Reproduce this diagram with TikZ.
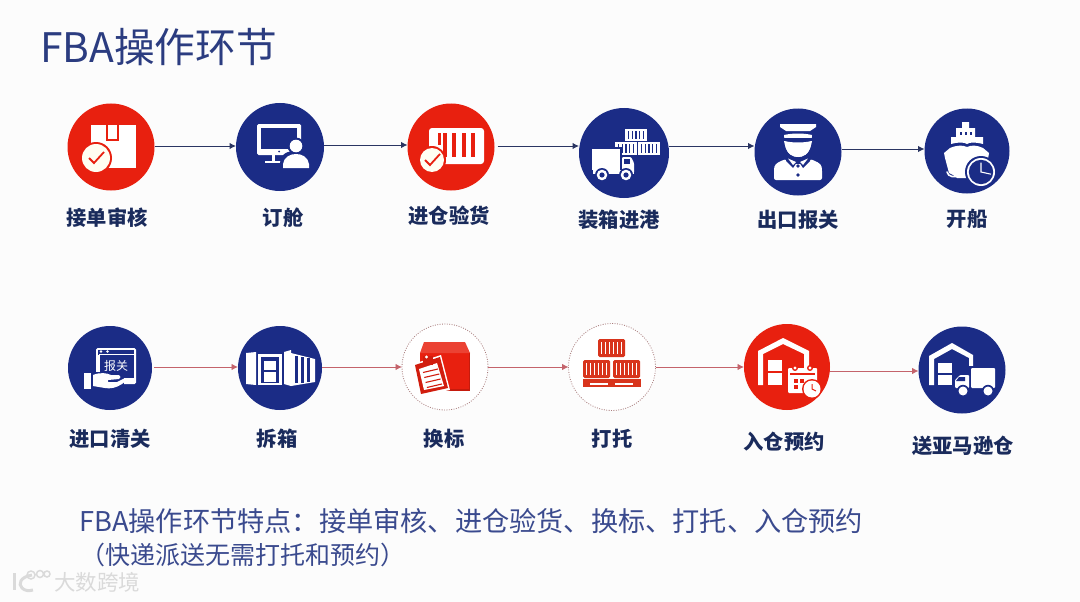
\documentclass[tikz,border=0pt]{standalone}
\usepackage{fontspec}
\setmainfont{Noto Sans CJK SC}
\definecolor{cred}{HTML}{E8200F}
\definecolor{cblue}{HTML}{1B2C86}
\definecolor{navy}{HTML}{1A2B5C}
\definecolor{ctitle}{HTML}{2B3C80}
\definecolor{cbody}{HTML}{3A4A8E}
\definecolor{arrd}{HTML}{2A3562}
\definecolor{arrr}{HTML}{C4636B}
\definecolor{ddot}{HTML}{A87C7C}
\definecolor{wm}{HTML}{DADADA}
\definecolor{pal}{HTML}{D8341C}
\usetikzlibrary{arrows.meta}
\tikzset{
  x=1pt,y=-1pt,
  stepc/.style={circle,inner sep=0pt,outer sep=0pt,minimum size=#1},
  redc/.style={stepc=#1,fill=cred},
  bluec/.style={stepc=#1,fill=cblue},
  dotc/.style={stepc=#1,draw=ddot,line width=.8pt,dash pattern=on .9pt off 1.5pt,fill=white},
  lab/.style={font=\bfseries\fontsize{20.3}{24}\selectfont,text=navy,inner sep=0pt},
  arrblue/.style={draw=arrd,line width=1pt,-{Latex[length=6.5pt,width=6.5pt]}},
  arrred/.style={draw=arrr,line width=.9pt,-{Latex[length=6.5pt,width=6.5pt]}},
}
\newcommand{\conn}[4]{\draw[#1] (#2.east |- 0,#4) -- (#3.west |- 0,#4);}
\newcommand{\clockic}[4]{% x y r colour
  \fill[white] (#1,#2) circle (#3);
  \fill[#4] (#1,#2) circle (#3-1.8);
  \draw[white,line width=1.1pt] (#1,#2-#3+4.5) -- (#1,#2) -- (#1+#3-4,#2+2.2);
}
\newcommand{\checkic}[3]{% x y r
  \fill[cred] (#1,#2) circle (#3+2);
  \fill[white!95!yellow] (#1,#2) circle (#3);
  \draw[cred,line width=1.8pt] (#1-7,#2) -- (#1-2,#2+5) -- (#1+8,#2-6);
}
\begin{document}
\begin{tikzpicture}
\useasboundingbox (0,0) rectangle (1080,602);
\fill[white!99!black] (0,0) rectangle (1080,602);

\node[anchor=west,inner sep=0pt,text=ctitle,font=\fontsize{40.7}{44}\selectfont] (title) at (40,47) {FBA操作环节};

% --- circles
\node[redc=87pt]  (a1) at (111,147) {};
\node[bluec=88pt] (a2) at (280,147) {};
\node[redc=87pt]  (a3) at (451,147) {};
\node[bluec=90pt] (a4) at (624,153) {};
\node[bluec=87pt] (a5) at (798,152) {};
\node[bluec=85pt] (a6) at (967,151) {};
\node[bluec=84pt] (b1) at (110,368) {};
\node[bluec=84pt] (b2) at (280,368) {};
\node[dotc=86pt]  (b3) at (445,367) {};
\node[dotc=87pt]  (b4) at (612,367) {};
\node[redc=86pt]  (b5) at (787,367) {};
\node[bluec=87pt] (b6) at (962,370) {};

% --- connectors
\conn{arrblue}{a1}{a2}{146}
\conn{arrblue}{a2}{a3}{145}
\draw[arrblue] ([xshift=3pt]a3.east |- 0,146) -- (a4.west |- 0,146);
\conn{arrblue}{a4}{a5}{146}
\conn{arrblue}{a5}{a6}{149}
\draw[arrred] ([xshift=2pt]b1.east |- 0,367) -- (b2.west |- 0,367);
\conn{arrred}{b2}{b3}{367}
\conn{arrred}{b3}{b4}{367}
\conn{arrred}{b4}{b5}{367}
\conn{arrred}{b5}{b6}{371}

% --- labels
\node[lab] (l1) at (107,218) {接单审核};
\node[lab] (l2) at (283,218) {订舱};
\node[lab] (l3) at (449,216) {进仓验货};
\node[lab] (l4) at (619,220) {装箱进港};
\node[lab] (l5) at (798,220) {出口报关};
\node[lab] (l6) at (967,219) {开船};
\node[lab] (l7) at (110,439) {进口清关};
\node[lab] (l8) at (277,439) {拆箱};
\node[lab] (l9) at (444,439) {换标};
\node[lab] (l10) at (612,439) {打托};
\node[lab] (l11) at (784,442) {入仓预约};
\node[lab] (l12) at (963,446) {送亚马逊仓};

% --- icon: box + check
\begin{scope}[shift={(a1.center)}]
  \fill[white] (-20,-22) rectangle (25,21);
  \fill[cred] (-5.5,-22) rectangle (8,-6);
  \fill[white] (-3.5,-22) rectangle (6,-8);
  \checkic{-15}{11}{14}
\end{scope}
% --- icon: monitor + person
\begin{scope}[shift={(a2.center)}]
  \fill[white,rounded corners=1.5pt] (-23,-23) rectangle (21,8);
  \fill[cblue] (-19,-19) rectangle (17,2);
  \fill[cblue] (-1,4.5) circle (1);
  \fill[white] (-8,8) rectangle (-5.5,15);
  \fill[white] (-15,14) rectangle (1,16);
  \fill[cblue] (16,-1) circle (8.5);
  \fill[cblue] (0,21.5) -- (0,16) .. controls (1,6) and (8,4) .. (16,4) .. controls (24,4) and (31,6) .. (32,16) -- (32,21.5) -- cycle;
  \fill[white] (16,-1) circle (6.3);
  \fill[white] (3,21) -- (3,17) .. controls (4,10) and (10,7) .. (16,7) .. controls (22,7) and (28,10) .. (29,17) -- (29,21) -- cycle;
\end{scope}
% --- icon: container + check
\begin{scope}[shift={(a3.center)}]
  \fill[white,rounded corners=3pt] (-22,-19) rectangle (33,17);
  \foreach \bx in {-6,3,13,22} \fill[cred] (\bx-1.6,-14) rectangle (\bx+1.6,10);
  \fill[cred] (-13,-14) rectangle (-10,-2);
  \checkic{-19}{13}{12}
\end{scope}
% --- icon: truck + containers
\begin{scope}[shift={(a4.center)}]
  \foreach \cx/\cy/\cw/\ch in {1/-24/22/12,-9/-11/22/13,14/-11/22/13}{
    \fill[white] (\cx,\cy) rectangle (\cx+\cw,\cy+\ch);
    \foreach \k in {1,...,5} \fill[cblue] (\cx+\cw*\k/6-.7,\cy+2) rectangle (\cx+\cw*\k/6+.7,\cy+\ch-2);
  }
  \fill[cblue] (-34,-6) rectangle (-2,19);
  \fill[white] (-32,-4) rectangle (-4,17);
  \fill[white,rounded corners=1pt] (-2,4) -- (7,4) -- (10,10) -- (10,20) -- (-2,20) -- cycle;
  \fill[cblue] (0,6) rectangle (6,10.5);
  \fill[white] (-31,17) rectangle (10,20.5);
  \foreach \wx in {-22,2}{
    \fill[cblue] (\wx,22) circle (7);
    \fill[white] (\wx,22) circle (5.3);
    \fill[cblue] (\wx,22) circle (2.6);
  }
\end{scope}
% --- icon: officer
\begin{scope}[shift={(a5.center)}]
  \fill[white] (-18,-28) -- (18,-28) -- (18,-25) -- (12,-21) -- (-12,-21) -- (-18,-25) -- cycle;
  \fill[white] (-14,-17) .. controls (-5,-19) and (5,-19) .. (14,-17) -- (13,-7) .. controls (11,3) and (4,5) .. (0,5) .. controls (-4,5) and (-11,3) .. (-13,-7) -- cycle;
  \fill[cblue] (-14,-11) .. controls (-5,-8) and (5,-8) .. (14,-11) -- (14,-14) -- (-14,-14) -- cycle;
  \fill[white] (-14,-11) .. controls (-5,-9) and (5,-9) .. (14,-11) -- (13,-7) .. controls (11,3) and (4,5) .. (0,5) .. controls (-4,5) and (-11,3) .. (-13,-7) -- cycle;
  \fill[white,rounded corners=2pt] (-24,28) -- (-24,17) .. controls (-23,11) and (-17,9) .. (-12,7) -- (0,13) -- (12,7) .. controls (17,9) and (23,11) .. (24,17) -- (24,28) -- cycle;
  \fill[cblue] (-12,4) -- (-1,10) -- (-5,16) -- (-12,9) -- cycle;
  \fill[cblue] (12,4) -- (1,10) -- (5,16) -- (12,9) -- cycle;
  \fill[white] (-10,6.5) -- (-2,10) -- (-5,13) -- cycle;
  \fill[white] (10,6.5) -- (2,10) -- (5,13) -- cycle;
  \fill[cblue] (0,14) circle (1.9);
  \fill[cblue] (0,23) circle (1.9);
\end{scope}
% --- icon: ship + clock
\begin{scope}[shift={(a6.center)}]
  \fill[white] (-5,-29) -- (2,-29) -- (2,-23) -- (8,-23) -- (8,-14) -- (16,-14) -- (16,-7) .. controls (8,-9) and (3,-9) .. (0,-7) .. controls (-3,-9) and (-9,-9) .. (-16,-7) -- (-16,-14) -- (-11,-14) -- (-11,-23) -- (-5,-23) -- cycle;
  \foreach \dx in {-6,-1,4} \fill[cblue] (\dx-1.2,-19) rectangle (\dx+1.2,-16.5);
  \fill[white] (-23,2) -- (-17,-3) .. controls (-10,-6) and (-4,-6) .. (0,-4) .. controls (4,-6) and (10,-6) .. (16,-3) -- (22,2) .. controls (21,10) and (18,18) .. (14,27) -- (-10,27) .. controls (-12,24) and (-15,24) .. (-18,22) .. controls (-20,14) and (-22,8) .. (-23,2) -- cycle;
  \draw[white,line width=1.6pt,line cap=round] (-20,21) .. controls (-19,26) and (-12,27) .. (-8,24);
  \fill[cblue] (14,21) circle (16);
  \clockic{14}{21}{14}{cblue}
\end{scope}
% --- icon: customs window + hand
\begin{scope}[shift={(b1.center)}]
  \fill[white,rounded corners=1.5pt] (-14,-20) rectangle (26,16);
  \fill[cblue] (-12,-18) rectangle (24,-13.5);
  \fill[white] (-9,-16.5) circle (1.3) (-2.5,-16.5) circle (1.3);
  \fill[cblue] (-11,-13.5) rectangle (24,10);
  \draw[white,line width=.8pt] (-11,-13.5) rectangle (24,10);
  \node[text=white,font=\fontsize{12}{12}\selectfont,inner sep=0pt] (bg) at (6,-2) {报关};
  \fill[cblue] (-17,4) rectangle (14,23);
  \fill[white] (-26,5) rectangle (-19,21);
  \fill[white] (-17,7) .. controls (-10,4) and (-3,5) .. (1,7) -- (9,7) .. controls (11,8) and (11,10) .. (9,11) -- (-2,12) -- (-2,14) -- (7,14) -- (15,10) .. controls (17,11) and (14,15) .. (12,16) .. controls (6,20) and (0,21) .. (-5,20) -- (-17,18) -- cycle;
\end{scope}
% --- icon: open container
\begin{scope}[shift={(b2.center)}]
  \fill[white] (-34,-15) -- (-24,-16) -- (-24,17) -- (-34,16) -- cycle;
  \fill[white] (-22,-14) -- (2,-14) -- (2,17) -- (-22,17) -- cycle;
  \fill[cblue] (-19,-11) rectangle (-1,15);
  \fill[white] (-16,-7) rectangle (-4,2);
  \fill[white] (-16,4) rectangle (-4,14);
  \fill[white] (4,-16) -- (11,-18) -- (11,18) -- (4,16) -- cycle;
  \fill[white] (11,-15) -- (35,-9) -- (35,14) -- (11,18) -- cycle;
  \foreach \sx/\st/\sb in {15/-12/15,21/-11/14.5,27/-10/14} \fill[cblue] (\sx,\st) rectangle (\sx+3,\sb);
\end{scope}
% --- icon: box + clipboard
\begin{scope}[shift={(b3.center)}]
  \fill[cred!85!black] (-25,-14) rectangle (25,24);
  \fill[cred] (-25,-14) rectangle (24,22);
  \fill[cred!85!white] (-21,-25) -- (20,-25) -- (25,-14) -- (-25,-14) -- cycle;
  \fill[white] (-32,-3) -- (-4,-12) -- (5,23) -- (-25,29) -- cycle;
  \fill[cred!90!black] (-30,-2) -- (-5,-10) -- (3,21) -- (-24,27) -- cycle;
  \fill[white] (-26,2) -- (-8,-4) -- (-1,19) -- (-21,23) -- cycle;
  \fill[cred!90!black] (-22,-11) rectangle (-12,-2);
  \fill[white] (-18.5,-10) circle (1.6);
  \foreach \i in {0,...,3}
    \draw[cred!90!black,line width=1.1pt] (-22+\i*1.3,5.5+\i*5) -- (-7+\i*1.3,2+\i*5);
\end{scope}
% --- icon: pallet
\begin{scope}[shift={(b4.center)}]
  \foreach \cx/\cy in {-14/-28,-29/-7,1/-7}{
    \fill[pal,rounded corners=1.5pt] (\cx,\cy) rectangle (\cx+27,\cy+18);
    \foreach \k in {1,...,6} \fill[white] (\cx+27*\k/7-.5,\cy+3) rectangle (\cx+27*\k/7+.5,\cy+15);
  }
  \fill[pal] (-29,12) rectangle (29,20);
  \fill[white] (-22,15.5) rectangle (-4,18);
  \fill[white] (3,15.5) rectangle (21,18);
\end{scope}
% --- icon: warehouse + calendar + clock
\begin{scope}[shift={(b5.center)}]
  \fill[white] (-4,-29) -- (22,-16) -- (22,1) -- (17,1) -- (17,-13) -- (-4,-23) -- (-24,-13) -- (-24,18) -- (-29,18) -- (-29,-16) -- cycle;
  \fill[white] (-19,-7) rectangle (-5,18);
  \fill[cred] (-19,4) rectangle (-5,6);
  \fill[white,rounded corners=1pt] (1,1) rectangle (30,26);
  \fill[cred] (3,6) rectangle (28,7.5);
  \foreach \rx in {8,23}{\fill[cred] (\rx,1) circle (3);\fill[white] (\rx,1) circle (1.6);}
  \foreach \qx/\qy in {7/12,13/12,7/18}\fill[cred] (\qx,\qy) rectangle (\qx+3.5,\qy+3.5);
  \fill[cred] (25,22) circle (10);
  \clockic{25}{22}{8.5}{white}
  \draw[cred,line width=1pt] (25,17) -- (25,22) -- (29,24);
\end{scope}
% --- icon: warehouse + truck
\begin{scope}[shift={(b6.center)}]
  \fill[white] (-10,-27) -- (11,-15) -- (11,-2) -- (7,-2) -- (7,-12) -- (-10,-21) -- (-28,-11) -- (-28,15) -- (-33,15) -- (-33,-14) -- cycle;
  \fill[white] (-24,-7) rectangle (-10,15);
  \fill[cblue] (-24,3) rectangle (-10,5);
  \fill[cblue] (-9,-4) rectangle (35,20);
  \fill[white,rounded corners=1pt] (9,-2) rectangle (33,18);
  \fill[white,rounded corners=1pt] (-7,18) -- (-7,10) -- (-2,5) -- (7,5) -- (7,18) -- cycle;
  \fill[cblue] (-3,7) -- (3,7) -- (3,11) -- (-6,11) -- cycle;
  \foreach \wx in {1,26}{
    \fill[cblue] (\wx,21) circle (6.2);
    \fill[white] (\wx,21) circle (4.5);
  }
\end{scope}

% --- body text
\node[anchor=west,inner sep=0pt,text=cbody,font=\fontsize{27.2}{32}\selectfont] (t1) at (79,521) {FBA操作环节特点：接单审核、进仓验货、换标、打托、入仓预约};
\node[anchor=west,inner sep=0pt,text=cbody,font=\fontsize{25}{30}\selectfont] (t2) at (80,555) {（快递派送无需打托和预约）};

% --- watermark
\node[anchor=west,inner sep=0pt,text=wm,font=\fontsize{21.5}{24}\selectfont] (wmk) at (54,582) {大数跨境};
\draw[wm,line width=3pt] (14,573) -- (14,590);
\draw[wm,line width=3pt] (32,575) .. controls (20,577) and (18,584) .. (22,588) .. controls (25,591) and (29,591) .. (33,590);
\draw[wm,line width=1.5pt] (31,575) circle (4) (40,574) circle (3.5) (47,574) circle (3);
\end{tikzpicture}
\end{document}
